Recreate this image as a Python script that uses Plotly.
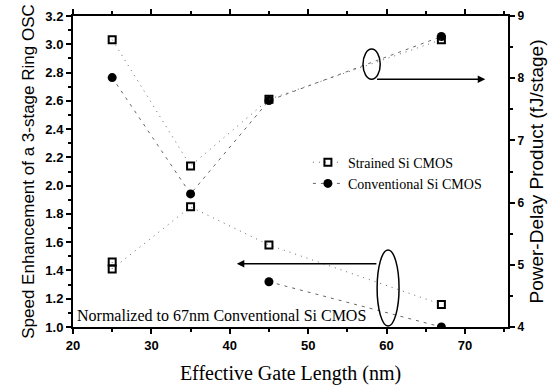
import plotly.graph_objects as go

# ---- data ----
gate_strained_speed = [25, 25, 35, 45, 67]
speed_strained = [1.46, 1.41, 1.85, 1.58, 1.16]
gate_conv_speed = [45, 67]
speed_conv = [1.32, 1.00]

gate_pdp = [25, 35, 45, 67]
pdp_strained = [8.62, 6.59, 7.66, 8.62]
pdp_conv = [8.01, 6.14, 7.64, 8.67]

x_ticks = [20, 30, 40, 50, 60, 70]
left_ticks = [1.0, 1.2, 1.4, 1.6, 1.8, 2.0, 2.2, 2.4, 2.6, 2.8, 3.0, 3.2]
right_ticks = [4, 5, 6, 7, 8, 9]

SERIF = "Liberation Serif"
SANS = "Liberation Sans"

sq = dict(symbol="square-open", size=7, color="black", line=dict(width=2, color="black"))
ci = dict(symbol="circle", size=9, color="black")
line_s = dict(color="#666", width=1, dash="1px,5px")
line_c = dict(color="#666", width=1, dash="3px,5px")

fig = go.Figure()
fig.add_trace(go.Scatter(x=gate_strained_speed, y=speed_strained, mode="lines+markers",
                         marker=sq, line=line_s, name="Strained Si CMOS",
                         legendgroup="s", yaxis="y"))
fig.add_trace(go.Scatter(x=gate_conv_speed, y=speed_conv, mode="lines+markers",
                         marker=ci, line=line_c, name="Conventional Si CMOS",
                         legendgroup="c", yaxis="y"))
fig.add_trace(go.Scatter(x=gate_pdp, y=pdp_conv, mode="lines+markers",
                         marker=ci, line=line_c, name="Conventional Si CMOS",
                         legendgroup="c", showlegend=False, yaxis="y2"))
fig.add_trace(go.Scatter(x=gate_pdp, y=pdp_strained, mode="lines+markers",
                         marker=sq, line=line_s, name="Strained Si CMOS",
                         legendgroup="s", showlegend=False, yaxis="y2"))

# ellipses
fig.add_shape(type="circle", xref="x", yref="y", x0=57.0, x1=59.2, y0=2.752, y1=2.966,
              line=dict(color="black", width=1.5))
fig.add_shape(type="circle", xref="x", yref="y", x0=58.8, x1=61.6, y0=1.007, y1=1.545,
              line=dict(color="black", width=1.5))

# arrows
fig.add_annotation(x=72.6, y=2.752, ax=58.6, ay=2.752, xref="x", yref="y", axref="x", ayref="y",
                   showarrow=True, arrowhead=2, arrowsize=1, arrowwidth=1.5, arrowcolor="black", text="")
fig.add_annotation(x=40.9, y=1.448, ax=58.9, ay=1.448, xref="x", yref="y", axref="x", ayref="y",
                   showarrow=True, arrowhead=2, arrowsize=1, arrowwidth=1.5, arrowcolor="black", text="")

fig.add_annotation(x=0.004, y=0.038, xref="paper", yref="paper", xanchor="left", yanchor="middle",
                   text="Normalized to 67nm Conventional Si CMOS", showarrow=False,
                   font=dict(family=SERIF, size=16, color="black"))

axis_common = dict(showline=True, linecolor="black", linewidth=2, showgrid=False, zeroline=False,
                   ticks="outside", ticklen=5, tickwidth=1.5, tickcolor="black")

fig.update_layout(
    width=555, height=391,
    margin=dict(l=73, r=47, t=9, b=64),
    paper_bgcolor="white", plot_bgcolor="white",
    xaxis=dict(range=[20, 75.5], tickvals=x_ticks, mirror="ticks",
               tickfont=dict(family=SANS, size=13, color="black", weight="bold"),
               minor=dict(dtick=5, ticks="outside", ticklen=3, tickcolor="black"),
               title=dict(text="Effective Gate Length (nm)", standoff=14,
                          font=dict(family=SERIF, size=20, color="black")),
               **axis_common),
    yaxis=dict(range=[1.0, 3.2], tickvals=left_ticks, tickformat=".1f",
               tickfont=dict(family=SANS, size=13, color="black", weight="bold"),
               minor=dict(dtick=0.1, ticks="outside", ticklen=3, tickcolor="black"),
               title=dict(text="Speed Enhancement of a 3-stage Ring OSC", standoff=6,
                          font=dict(family=SANS, size=17, color="black")),
               **axis_common),
    yaxis2=dict(range=[4, 9], tickvals=right_ticks, overlaying="y", side="right",
                tickfont=dict(family=SANS, size=12, color="black", weight="bold"),
                minor=dict(dtick=0.5, ticks="outside", ticklen=3, tickcolor="black"),
                title=dict(text="Power-Delay Product (fJ/stage)", standoff=6,
                           font=dict(family=SANS, size=19, color="black")),
                **axis_common),
    legend=dict(x=0.54, y=0.58, xanchor="left", yanchor="top", bgcolor="rgba(0,0,0,0)",
                font=dict(family=SERIF, size=14, color="black"), tracegroupgap=0,
                itemwidth=30),
    showlegend=True,
)

fig.write_html("out.html")
